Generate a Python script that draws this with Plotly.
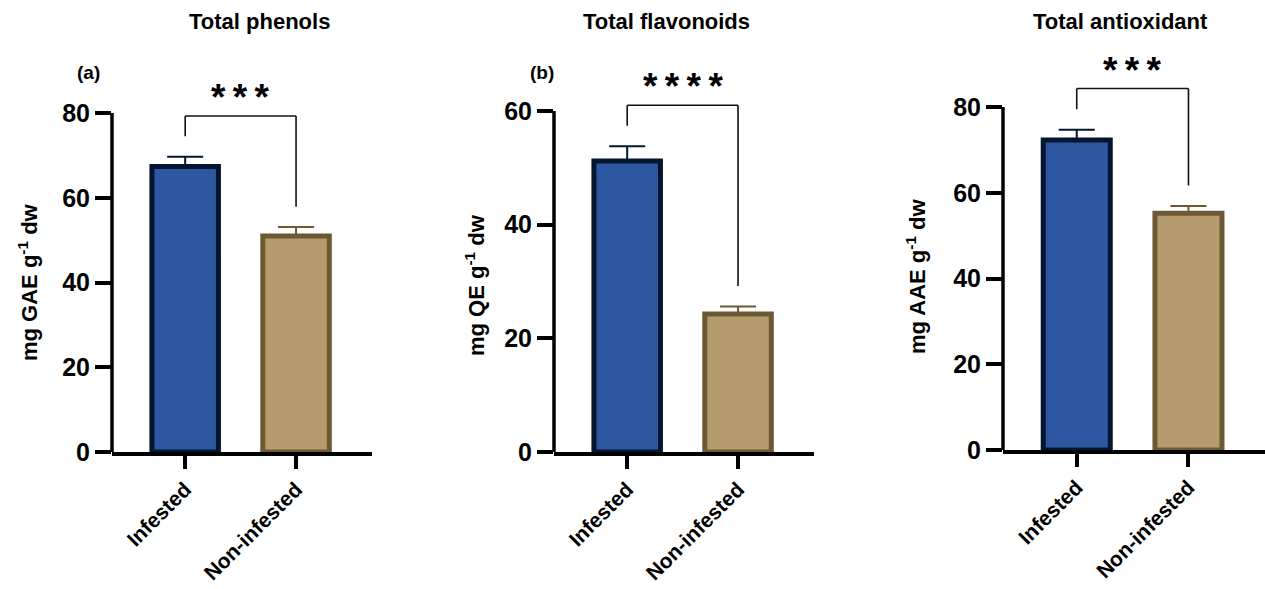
import plotly.graph_objects as go

# ---------------- data ----------------
categories = ["Infested", "Non-infested"]
titles = ["Total phenols", "Total flavonoids", "Total antioxidant"]
panel_letters = ["(a)", "(b)", ""]
y_titles = ["mg GAE g<sup>-1</sup> dw", "mg QE g<sup>-1</sup> dw", "mg AAE g<sup>-1</sup> dw"]
significance = ["***", "****", "***"]

phenols = [67.4, 51.0]
phenols_err = [2.3, 2.1]
flavonoids = [51.2, 24.3]
flavonoids_err = [2.6, 1.3]
antioxidant = [72.3, 55.2]
antioxidant_err = [2.4, 1.7]

y_ticks = [[0, 20, 40, 60, 80], [0, 20, 40, 60], [0, 20, 40, 60, 80]]

values = [phenols, flavonoids, antioxidant]
errors = [phenols_err, flavonoids_err, antioxidant_err]

# ---------------- style ----------------
W, H = 1265, 589
FONT = "Arial, Liberation Sans, sans-serif"
fill_cols = ["#2E57A1", "#B59C6F"]
line_cols = ["#041530", "#6E5834"]

# layout geometry (pixels)
x_dom_px = [(112, 372), (554, 814), (1003, 1265)]
y0_px = [452, 452, 450]          # pixel of value 0
ymax_px = [113, 111, 107]        # pixel of the axis maximum tick
axis_max = [80, 60, 80]
range_top = [100, 70, 100]
x_range = [-0.66, 1.685]
title_x_px = [259, 667, 1120]
ytitle_pos = [(28, 282), (475, 285), (916, 276)]
letter_pos = [(88, 73), (542, 73), None]

fig = go.Figure()
layout = dict(width=W, height=H, margin=dict(l=0, r=0, t=0, b=0, pad=0, autoexpand=False),
              paper_bgcolor="white", plot_bgcolor="white", showlegend=False,
              barmode="overlay", font=dict(family=FONT, color="black"))
shapes = []
annotations = []

for i in range(3):
    xa = "x" if i == 0 else f"x{i+1}"
    ya = "y" if i == 0 else f"y{i+1}"
    xkey = "xaxis" if i == 0 else f"xaxis{i+1}"
    ykey = "yaxis" if i == 0 else f"yaxis{i+1}"

    px_per_unit = (y0_px[i] - ymax_px[i]) / axis_max[i]
    top_px = y0_px[i] - px_per_unit * range_top[i]
    ydom = [1 - y0_px[i] / H, 1 - top_px / H]
    xdom = [x_dom_px[i][0] / W, min(1.0, x_dom_px[i][1] / W)]

    for j, cat in enumerate(categories):
        fig.add_trace(go.Bar(
            x=[cat], y=[values[i][j]], width=0.6,
            marker=dict(color=fill_cols[j], line=dict(color=line_cols[j], width=5)),
            error_y=dict(type="data", array=[errors[i][j]], arrayminus=[0],
                         symmetric=False, color=line_cols[j], thickness=2, width=18),
            xaxis=xa, yaxis=ya, hoverinfo="skip"))

    layout[xkey] = dict(domain=xdom, range=x_range, type="category", automargin=False,
                        categoryorder="array", categoryarray=categories,
                        showline=True, linecolor="black", linewidth=3.5,
                        ticks="outside", ticklen=13, tickwidth=3.5, tickcolor="black",
                        tickangle=-45, showgrid=False, zeroline=False,
                        tickfont=dict(family=FONT, size=21, color="black", weight="bold"),
                        anchor=ya)
    layout[ykey] = dict(domain=ydom, range=[0, range_top[i]], showline=False, automargin=False,
                        tickvals=y_ticks[i], ticks="outside", ticklen=16, tickwidth=3.5,
                        tickcolor="black", showgrid=False, zeroline=False,
                        tickfont=dict(family=FONT, size=25, color="black", weight="bold"),
                        anchor=xa)
    # y axis line from 0 to axis max
    shapes.append(dict(type="line", xref=f"{xa} domain", yref=f"{ya} domain",
                       x0=0, x1=0, y0=0, y1=axis_max[i] / range_top[i],
                       line=dict(color="black", width=3.5)))

    # significance bracket
    gap = 0.06 * axis_max[i]
    left_leg = values[i][0] + errors[i][0] + gap
    right_leg = values[i][1] + errors[i][1] + gap
    top = max(left_leg, right_leg) + gap
    for (xx0, yy0, xx1, yy1) in [(0, left_leg, 0, top), (0, top, 1, top), (1, top, 1, right_leg)]:
        shapes.append(dict(type="line", xref=xa, yref=ya, x0=xx0, x1=xx1, y0=yy0, y1=yy1,
                           line=dict(color="#111111", width=1.6)))
    annotations.append(dict(x=0.5, y=top, xref=xa, yref=ya,
                            text="<b>" + "\u2009".join(significance[i]) + "</b>",
                            showarrow=False, yanchor="bottom", yshift=-4,
                            font=dict(family=FONT, size=37, color="black")))

    # title
    annotations.append(dict(x=title_x_px[i] / W, y=1 - 21 / H, xref="paper", yref="paper",
                            text=f"<b>{titles[i]}</b>", showarrow=False,
                            xanchor="center", yanchor="middle",
                            font=dict(family=FONT, size=22, color="black")))
    # y title
    tx, ty = ytitle_pos[i]
    annotations.append(dict(x=tx / W, y=1 - ty / H, xref="paper", yref="paper",
                            text=f"<b>{y_titles[i]}</b>", showarrow=False, textangle=-90,
                            xanchor="center", yanchor="middle",
                            font=dict(family=FONT, size=22, color="black")))
    if letter_pos[i]:
        lx, ly = letter_pos[i]
        annotations.append(dict(x=lx / W, y=1 - ly / H, xref="paper", yref="paper",
                                text=f"<b>{panel_letters[i]}</b>", showarrow=False,
                                xanchor="center", yanchor="middle",
                                font=dict(family=FONT, size=19, color="black")))

layout["shapes"] = shapes
layout["annotations"] = annotations
fig.update_layout(**layout)
fig.write_html("out.html", config={"displayModeBar": False},
               post_script="document.body.style.margin='0';document.body.style.overflow='hidden';")
